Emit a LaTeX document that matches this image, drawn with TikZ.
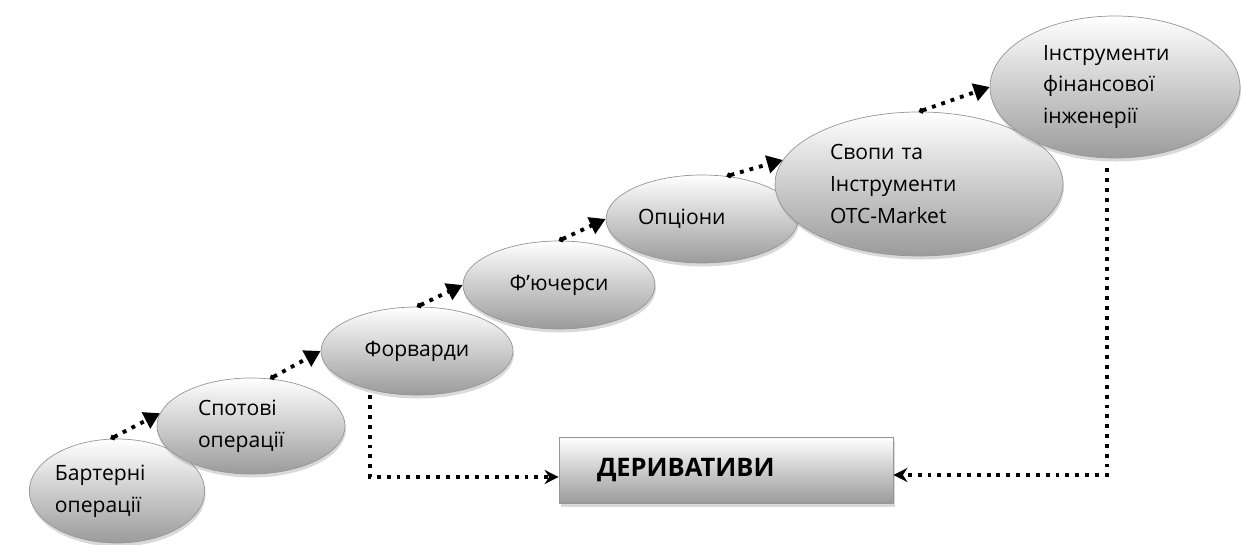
\documentclass[tikz,border=0pt]{standalone}
\usepackage{fontspec}
\setmainfont{Open Sans}
\usepackage{xcolor}
\usepackage{tikz}
\usetikzlibrary{shapes,arrows.meta,positioning,shadows}
\definecolor{stageedge}{RGB}{150,150,150}
\definecolor{stagelow}{RGB}{155,155,155}

\begin{document}
\begin{tikzpicture}[
    stage/.style={ellipse, draw=stageedge, top color=white, bottom color=stagelow, inner sep=0pt, align=left, font=\fontsize{12}{18}\selectfont, drop shadow={shadow xshift=0.5pt, shadow yshift=-2pt, opacity=0.3}},
    result/.style={rectangle, draw=stageedge, top color=white, bottom color=stagelow, minimum width=6.68cm, minimum height=1.32cm, text width=5.16cm, inner xsep=0.76cm, align=left, font=\fontsize{14.5}{17}\selectfont\bfseries, drop shadow={shadow xshift=1pt, shadow yshift=-2pt, opacity=0.3}},
    flow/.style={line width=2.2pt, dash pattern=on 2.2pt off 3.4pt, {Circle[length=3pt]}-{Triangle[length=9pt,width=10pt]}},
    link/.style={line width=2.2pt, dash pattern=on 2.2pt off 3.4pt, -{Stealth[length=8pt,width=8pt]}}
]
\useasboundingbox (0,0) rectangle (24.82,10.88);

% Stages
\node[stage, minimum width=3.48cm, minimum height=2.08cm, text width=2.48cm] (barter) at (2.34,1.06) {Бартерні\\операції};
\node[stage, minimum width=3.76cm, minimum height=1.92cm, text width=2.12cm] (spot) at (5.02,2.36) {Спотові\\операції};
\node[stage, minimum width=3.84cm, minimum height=1.76cm] (fwd) at (8.34,3.86) {Форварди};
\node[stage, minimum width=3.84cm, minimum height=1.76cm] (fut) at (11.18,5.18) {Ф’ючерси};
\node[stage, minimum width=3.84cm, minimum height=1.76cm, text width=2.56cm] (opt) at (14.04,6.50) {Опціони};
\node[stage, minimum width=5.76cm, minimum height=2.88cm, text width=3.56cm] (swap) at (18.38,7.20) {Свопи та\\Інструменти\\OTC-Market};
\node[stage, minimum width=5.00cm, minimum height=2.84cm, text width=2.88cm] (fin) at (22.30,9.14) {Інструменти\\фінансової\\інженерії};

% Result
\node[result] (deriv) at (14.52,1.48) {ДЕРИВАТИВИ};

% Arrows
\draw[flow] (barter.97) -- (spot.172);
\draw[flow] (spot.68) -- (fwd.west);
\draw[flow] (fwd.north) -- (fut.west);
\draw[flow] (fut.north) -- (opt.west);
\draw[flow] (opt.60) -- (swap.170);
\draw[flow] (swap.north) -- (fin.west);

\draw[link] ([xshift=-0.94cm]fwd.south) |- ([yshift=-0.14cm]deriv.west);
\draw[link] ([xshift=-0.16cm,yshift=-0.2cm]fin.south) |- ([yshift=-0.1cm]deriv.east);

\end{tikzpicture}
\end{document}
